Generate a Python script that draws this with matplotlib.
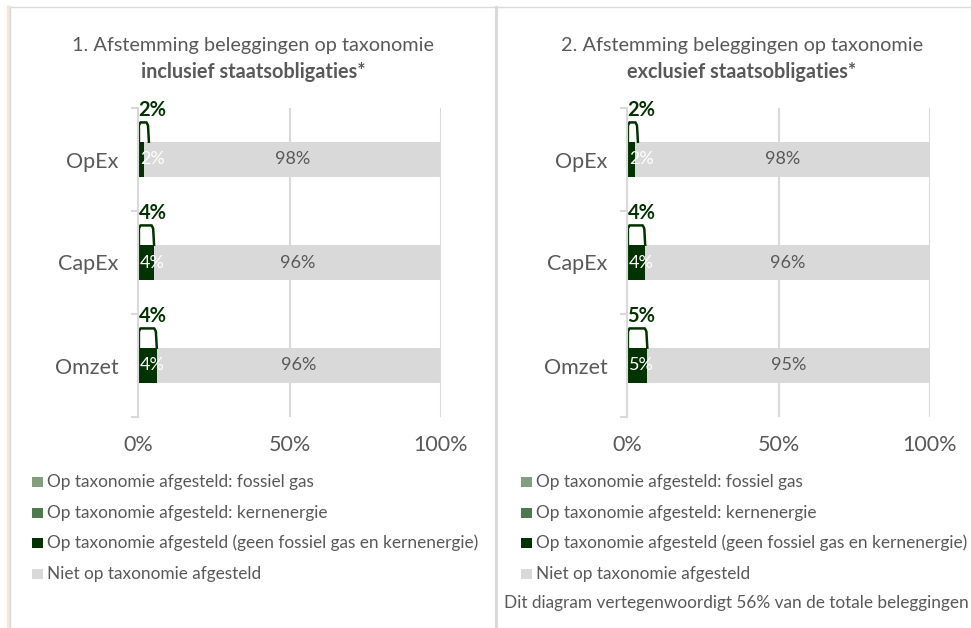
import matplotlib.pyplot as plt
from matplotlib.patches import Rectangle
from matplotlib.lines import Line2D

plt.rcParams['font.family'] = ['Lato', 'DejaVu Sans']

# categories top to bottom
categories = ["OpEx", "CapEx", "Omzet"]

# taxonomy aligned share (bar width as drawn) and its label
incl_aligned = [2.0, 5.3, 6.2]
incl_aligned_labels = ["2%", "4%", "4%"]
incl_not_labels = ["98%", "96%", "96%"]

excl_aligned = [2.7, 6.0, 6.7]
excl_aligned_labels = ["2%", "4%", "5%"]
excl_not_labels = ["98%", "96%", "95%"]

titles = ["1. Afstemming beleggingen op taxonomie", "2. Afstemming beleggingen op taxonomie"]
titles_bold = ["inclusief staatsobligaties*", "exclusief staatsobligaties*"]

legend_labels = [
    "Op taxonomie afgesteld: fossiel gas",
    "Op taxonomie afgesteld: kernenergie",
    "Op taxonomie afgesteld (geen fossiel gas en kernenergie)",
    "Niet op taxonomie afgesteld",
]
footnote = "Dit diagram vertegenwoordigt 56% van de totale beleggingen"

C_GAS = "#7f9f7f"
C_NUC = "#4d7a4d"
C_DARK = "#003300"
C_GREY = "#d9d9d9"
C_TEXT = "#595959"
legend_colors = [C_GAS, C_NUC, C_DARK, C_GREY]

W, H = 971, 628
fig = plt.figure(figsize=(W / 100, H / 100), dpi=100)


def px(x, y):
    return x / W, 1 - y / H


# frame lines
fig.add_artist(Line2D([7.5 / W] * 2, [0, 1 - 7 / H], color="#fce4d0", lw=2.5))
fig.add_artist(Line2D([9.8 / W] * 2, [0, 1 - 7 / H], color=C_GREY, lw=1))
fig.add_artist(Line2D([10 / W, 1], [1 - 7 / H] * 2, color=C_GREY, lw=1))
fig.add_artist(Line2D([496 / W] * 2, [0, 1 - 7 / H], color=C_GREY, lw=2.2))


def panel(x0px, aligned, aligned_labels, not_labels, title, title_bold):
    left, top = px(x0px, 108)
    _, bottom = px(0, 417)
    ax = fig.add_axes([left, bottom, 303 / W, top - bottom])
    ys = list(range(len(categories)))
    rest = [100 - a for a in aligned]
    bh = 0.345
    ax.barh(ys, aligned, height=bh, color=C_DARK)
    ax.barh(ys, rest, left=aligned, height=bh, color=C_GREY)
    for y, a, r, la, lr in zip(ys, aligned, rest, aligned_labels, not_labels):
        ax.text(0.6, y, la, color="white", fontsize=13, ha="left", va="center")
        ax.text(a + r / 2, y, lr, color=C_TEXT, fontsize=13, ha="center", va="center")
        # callout outline above the aligned bar
        bw = max(a, 3.6)
        btop = y - 0.5 + 0.14
        bbot = y - bh / 2
        xs = [0.3, 0.3, 0.8, bw - 0.8, bw - 0.3, bw]
        yy = [bbot, btop + 0.03, btop, btop, btop + 0.03, bbot]
        ax.plot(xs, yy, color=C_DARK, lw=1.8, solid_joinstyle="round", clip_on=False)
        ax.text(0.2, y - 0.5 + 0.02, la, color=C_DARK, fontsize=14.5, fontweight="bold",
                ha="left", va="center")
    ax.set_xlim(0, 100)
    ax.set_ylim(2.5, -0.5)
    for g in (50, 100):
        ax.axvline(g, color=C_GREY, lw=1.5, zorder=0)
    for s in ("top", "right", "bottom"):
        ax.spines[s].set_visible(False)
    ax.spines["left"].set_color(C_GREY)
    ax.spines["left"].set_linewidth(1.5)
    ax.set_yticks(ys)
    ax.set_yticklabels(categories, fontsize=15.5, color=C_TEXT)
    ax.set_yticks([-0.5, 0.5, 1.5, 2.5], minor=True)
    ax.tick_params(axis="y", which="major", length=0, pad=14)
    ax.tick_params(axis="y", which="minor", length=5, color=C_GREY, width=1.5)
    ax.set_xticks([0, 50, 100])
    ax.set_xticklabels(["0%", "50%", "100%"], fontsize=15.5, color=C_TEXT)
    ax.tick_params(axis="x", length=0, pad=13)
    ax.set_facecolor("none")

    cx = x0px + 115
    fig.text(*px(cx, 45), title, fontsize=14.3, color=C_TEXT, ha="center", va="center")
    fig.text(*px(cx, 72), title_bold, fontsize=14.3, color=C_TEXT, ha="center", va="center",
             fontweight="bold")

    # legend
    lx = x0px - 106
    for i, (lab, col) in enumerate(zip(legend_labels, legend_colors)):
        yc = 482 + i * 30.6
        fx, fy = px(lx, yc + 5)
        fig.add_artist(Rectangle((fx, fy), 11 / W, 10 / H, transform=fig.transFigure,
                                 facecolor=col, edgecolor="none"))
        fig.text(*px(lx + 15, yc), lab, fontsize=12.4, color=C_TEXT, ha="left", va="center")


panel(138, incl_aligned, incl_aligned_labels, incl_not_labels, titles[0], titles_bold[0])
panel(627, excl_aligned, excl_aligned_labels, excl_not_labels, titles[1], titles_bold[1])

fig.text(*px(969, 603), footnote, fontsize=12.4, color=C_TEXT, ha="right", va="center")

fig.savefig("out.png", dpi=100)
